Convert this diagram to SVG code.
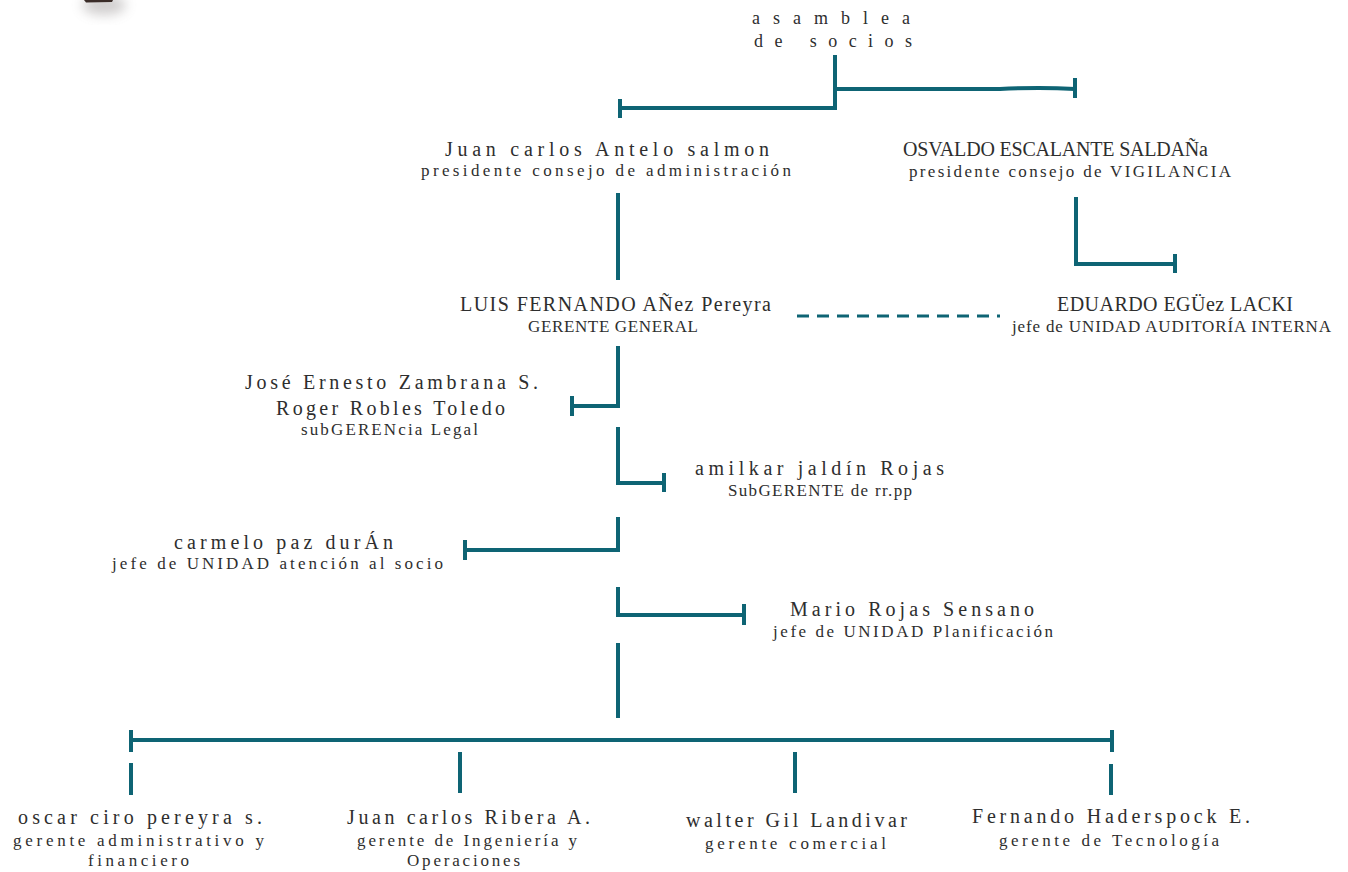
<svg xmlns="http://www.w3.org/2000/svg" width="1348" height="872" viewBox="0 0 1348 872">
<style>
.n{font-family:"Liberation Serif","Times New Roman",serif;font-size:20px;fill:#2e2e2e}
.s{font-family:"Liberation Serif","Times New Roman",serif;font-size:17px;fill:#2e2e2e}
.a{font-family:"Liberation Serif","Times New Roman",serif;font-size:18px;fill:#2e2e2e}
.l{fill:none;stroke:#0e6474;stroke-width:4}
.d{fill:none;stroke:#0e6474;stroke-width:3;stroke-dasharray:12 8}
</style>
<defs>
<filter id="blur" x="-50%" y="-50%" width="200%" height="200%"><feGaussianBlur stdDeviation="6"/></filter>
</defs>
<rect width="1348" height="872" fill="#ffffff"/>
<g id="logo">
<ellipse cx="104" cy="5" rx="22" ry="10" fill="#8a8585" opacity="0.4" filter="url(#blur)"/>
<path d="M84 0 H113 L112 2 L86 2.5 Z" fill="#3a2c28"/>
</g>
<g id="connectors">
<path class="l" d="M835 55 V108 H620"/>
<path class="l" d="M620 99 V118"/>
<path class="l" d="M835 89 H1000 Q1040 87 1075 89"/>
<path class="l" d="M1075 78 V98"/>
<path class="l" d="M618 193 V280"/>
<path class="l" d="M1076 197 V264 H1175"/>
<path class="l" d="M1175 254 V273"/>
<path class="d" d="M797 316 H1000"/>
<path class="l" d="M618 346 V406 H572"/>
<path class="l" d="M572 396 V416"/>
<path class="l" d="M618 427 V483 H664"/>
<path class="l" d="M664 473 V492"/>
<path class="l" d="M618 517 V550 H465"/>
<path class="l" d="M465 540 V560"/>
<path class="l" d="M618 587 V615 H744"/>
<path class="l" d="M744 604 V625"/>
<path class="l" d="M618 643 V718"/>
<path class="l" d="M131 740 H1112"/>
<path class="l" d="M131 730 V752 M1112 730 V752"/>
<path class="l" d="M131 763 V795 M460 752 V793 M795 752 V793 M1111 764 V795"/>
</g>
<g id="asamblea">
<text class="a" x="752" y="24" textLength="158" lengthAdjust="spacing">asamblea</text>
<text class="a" x="754" y="47" textLength="158" lengthAdjust="spacing">de socios</text>
</g>
<g id="antelo">
<text class="n" x="445" y="156" textLength="324" lengthAdjust="spacing">Juan carlos Antelo salmon</text>
<text class="s" x="421" y="176" textLength="370" lengthAdjust="spacing">presidente consejo de administración</text>
</g>
<g id="escalante">
<text class="n" x="903" y="156" textLength="305" lengthAdjust="spacing">OSVALDO ESCALANTE SALDAÑa</text>
<text class="s" x="909" y="177" textLength="322" lengthAdjust="spacing">presidente consejo de VIGILANCIA</text>
</g>
<g id="anez">
<text class="n" x="460" y="311" textLength="311" lengthAdjust="spacing">LUIS FERNANDO AÑez Pereyra</text>
<text class="s" x="528" y="332" textLength="170" lengthAdjust="spacing">GERENTE GENERAL</text>
</g>
<g id="eguez">
<text class="n" x="1057" y="311" textLength="236" lengthAdjust="spacing">EDUARDO EGÜez LACKI</text>
<text class="s" x="1012" y="332" textLength="319" lengthAdjust="spacing">jefe de UNIDAD AUDITORÍA INTERNA</text>
</g>
<g id="legal">
<text class="n" x="245" y="389" textLength="293" lengthAdjust="spacing">José Ernesto Zambrana S.</text>
<text class="n" x="276" y="415" textLength="229" lengthAdjust="spacing">Roger Robles Toledo</text>
<text class="s" x="301" y="435" textLength="177" lengthAdjust="spacing">subGERENcia Legal</text>
</g>
<g id="jaldin">
<text class="n" x="695" y="475" textLength="249" lengthAdjust="spacing">amilkar jaldín Rojas</text>
<text class="s" x="728" y="496" textLength="184" lengthAdjust="spacing">SubGERENTE de rr.pp</text>
</g>
<g id="paz">
<text class="n" x="174" y="549" textLength="219" lengthAdjust="spacing">carmelo paz durÁn</text>
<text class="s" x="112" y="569" textLength="331" lengthAdjust="spacing">jefe de UNIDAD atención al socio</text>
</g>
<g id="sensano">
<text class="n" x="790" y="616" textLength="244" lengthAdjust="spacing">Mario Rojas Sensano</text>
<text class="s" x="773" y="637" textLength="280" lengthAdjust="spacing">jefe de UNIDAD Planificación</text>
</g>
<g id="pereyra">
<text class="n" x="18" y="824" textLength="244" lengthAdjust="spacing">oscar ciro pereyra s.</text>
<text class="s" x="13" y="846" textLength="251" lengthAdjust="spacing">gerente administrativo y</text>
<text class="s" x="88" y="866" textLength="101" lengthAdjust="spacing">financiero</text>
</g>
<g id="ribera">
<text class="n" x="347" y="824" textLength="243" lengthAdjust="spacing">Juan carlos Ribera A.</text>
<text class="s" x="357" y="846" textLength="220" lengthAdjust="spacing">gerente de Ingeniería y</text>
<text class="s" x="407" y="866" textLength="113" lengthAdjust="spacing">Operaciones</text>
</g>
<g id="gil">
<text class="n" x="686" y="827" textLength="221" lengthAdjust="spacing">walter Gil Landivar</text>
<text class="s" x="705" y="849" textLength="181" lengthAdjust="spacing">gerente comercial</text>
</g>
<g id="haderspock">
<text class="n" x="972" y="823" textLength="278" lengthAdjust="spacing">Fernando Haderspock E.</text>
<text class="s" x="999" y="846" textLength="220" lengthAdjust="spacing">gerente de Tecnología</text>
</g>
</svg>
